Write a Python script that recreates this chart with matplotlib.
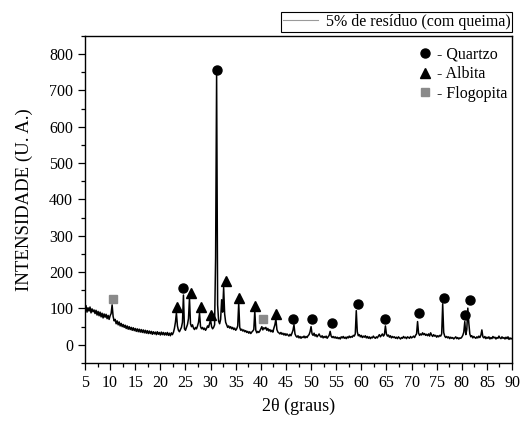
import numpy as np
import matplotlib
matplotlib.use("Agg")
import matplotlib.pyplot as plt
from matplotlib.lines import Line2D
from matplotlib.ticker import MultipleLocator

plt.rcParams['font.family'] = ['Liberation Serif', 'DejaVu Serif']

# difratograma, passo de 0.2 grau (5 a 90)
theta_ini = 5.0
passo = 0.2
intensidade = [
    97, 108, 90, 102, 93, 104, 88, 99, 91, 96,
    86, 95, 82, 92, 80, 90, 77, 87, 74, 85,
    76, 84, 72, 81, 70, 80, 86, 110, 78, 66,
    70, 58, 66, 55, 63, 52, 59, 50, 56, 48,
    54, 45, 52, 43, 50, 42, 48, 40, 47, 39,
    45, 37, 44, 36, 43, 35, 42, 34, 41, 33,
    40, 32, 39, 31, 38, 31, 37, 29, 36, 30,
    35, 28, 36, 29, 34, 27, 35, 28, 34, 27,
    33, 27, 34, 26, 32, 25, 33, 28, 34, 45,
    62, 88, 52, 40, 36, 42, 48, 62, 137, 44,
    40, 48, 56, 72, 129, 58, 50, 55, 46, 42,
    48, 44, 52, 62, 87, 50, 44, 48, 42, 46,
    40, 45, 52, 48, 58, 69, 50, 44, 48, 55,
    240, 745, 110, 65, 58, 70, 124, 90, 158, 85,
    62, 55, 48, 52, 46, 50, 44, 48, 42, 46,
    40, 44, 52, 115, 48, 40, 43, 38, 41, 36,
    39, 34, 37, 32, 36, 31, 35, 38, 42, 93,
    40, 33, 37, 34, 38, 44, 50, 41, 47, 44,
    48, 40, 45, 38, 42, 36, 40, 35, 46, 55,
    71, 42, 35, 33, 30, 34, 29, 32, 27, 31,
    26, 30, 27, 24, 29, 25, 32, 40, 55, 30,
    24, 21, 25, 19, 23, 18, 22, 20, 24, 19,
    23, 20, 25, 28, 36, 50, 30, 26, 32, 24,
    28, 22, 26, 30, 24, 21, 25, 19, 23, 20,
    24, 18, 22, 26, 37, 24, 20, 23, 19, 22,
    18, 21, 17, 20, 16, 22, 19, 23, 18, 21,
    17, 22, 19, 24, 20, 23, 21, 26, 24, 30,
    94, 36, 25, 28, 22, 26, 20, 24, 21, 25,
    19, 23, 18, 22, 17, 21, 19, 24, 20, 18,
    22, 19, 24, 28, 22, 26, 30, 24, 28, 52,
    30, 24, 27, 21, 25, 19, 23, 20, 22, 18,
    21, 17, 22, 19, 16, 20, 18, 23, 19, 21,
    17, 22, 20, 18, 23, 19, 21, 24, 20, 26,
    30, 64, 32, 26, 30, 27, 33, 28, 31, 26,
    29, 25, 30, 24, 33, 27, 23, 28, 24, 26,
    21, 25, 22, 26, 24, 30, 113, 34, 24, 20,
    23, 19, 22, 17, 21, 18, 20, 16, 19, 22,
    17, 20, 16, 19, 18, 21, 26, 35, 64, 28,
    42, 101, 60, 30, 22, 25, 19, 23, 20, 18,
    22, 19, 24, 20, 26, 41, 22, 19, 23, 17,
    21, 18, 22, 16, 20, 17, 23, 19, 21, 16,
    20, 18, 24, 19, 17, 22, 18, 20, 16, 21,
    17, 22, 15, 19, 16, 18,
]
dois_theta = theta_ini + passo * np.arange(len(intensidade))

# marcadores das fases
quartzo_x = [24.5, 31.3, 46.5, 50.1, 54.2, 59.4, 64.8, 71.4, 76.5, 80.7, 81.6]
quartzo_y = [157, 757, 70, 70, 60, 113, 72, 87, 130, 81, 124]
albita_x = [23.3, 26.2, 28.1, 30.0, 33.0, 35.7, 38.9, 43.0]
albita_y = [104, 144, 103, 82, 176, 130, 107, 85]
flogopita_x = [10.6, 40.4]
flogopita_y = [127, 70]

fig = plt.figure(figsize=(5.23, 4.21), dpi=100)
ax = fig.add_axes([0.1625, 0.1378, 0.8165, 0.7767])

ax.plot(dois_theta, intensidade, color='black', lw=1.1)
ax.plot(quartzo_x, quartzo_y, 'o', color='black', ms=6.5, ls='none')
ax.plot(albita_x, albita_y, '^', color='black', ms=7, ls='none')
ax.plot(flogopita_x, flogopita_y, 's', color='#8a8a8a', ms=6, ls='none')

ax.set_xlim(5, 90)
ax.set_ylim(-50, 850)
ax.xaxis.set_major_locator(MultipleLocator(5))
ax.xaxis.set_minor_locator(MultipleLocator(2.5))
ax.yaxis.set_major_locator(MultipleLocator(100))
ax.yaxis.set_minor_locator(MultipleLocator(50))
ax.tick_params(which='both', direction='out', labelsize=11.5, top=False, right=False)
ax.tick_params(which='major', length=5, width=0.9)
ax.tick_params(which='minor', length=3, width=0.9)
for s in ax.spines.values():
    s.set_linewidth(1.0)

ax.set_xlabel("2θ (graus)", fontsize=13, labelpad=5)
ax.set_ylabel("INTENSIDADE (U. A.)", fontsize=13.5, labelpad=12)

h_fases = [
    Line2D([], [], marker='o', color='black', ls='none', ms=6.5),
    Line2D([], [], marker='^', color='black', ls='none', ms=7),
    Line2D([], [], marker='s', color='#8a8a8a', ls='none', ms=6),
]
ax.legend(h_fases, ["- Quartzo", "- Albita", "- Flogopita"], loc='upper right',
          bbox_to_anchor=(1.0, 0.982), frameon=False, fontsize=11.5,
          handlelength=0.8, handletextpad=0.35, labelspacing=0.22,
          borderaxespad=0.0, borderpad=0.3)

h_amostra = [Line2D([], [], color='#9a9a9a', lw=0.8)]
leg = fig.legend(h_amostra, ["5% de resíduo (com queima)"], loc='lower right',
                 bbox_to_anchor=(0.979, 0.925), fontsize=11.5, fancybox=False,
                 edgecolor='black', framealpha=1, handlelength=2.2,
                 handletextpad=0.5, borderpad=0.1, borderaxespad=0.0)
leg.get_frame().set_linewidth(0.8)

fig.savefig("out.png", dpi=100)
